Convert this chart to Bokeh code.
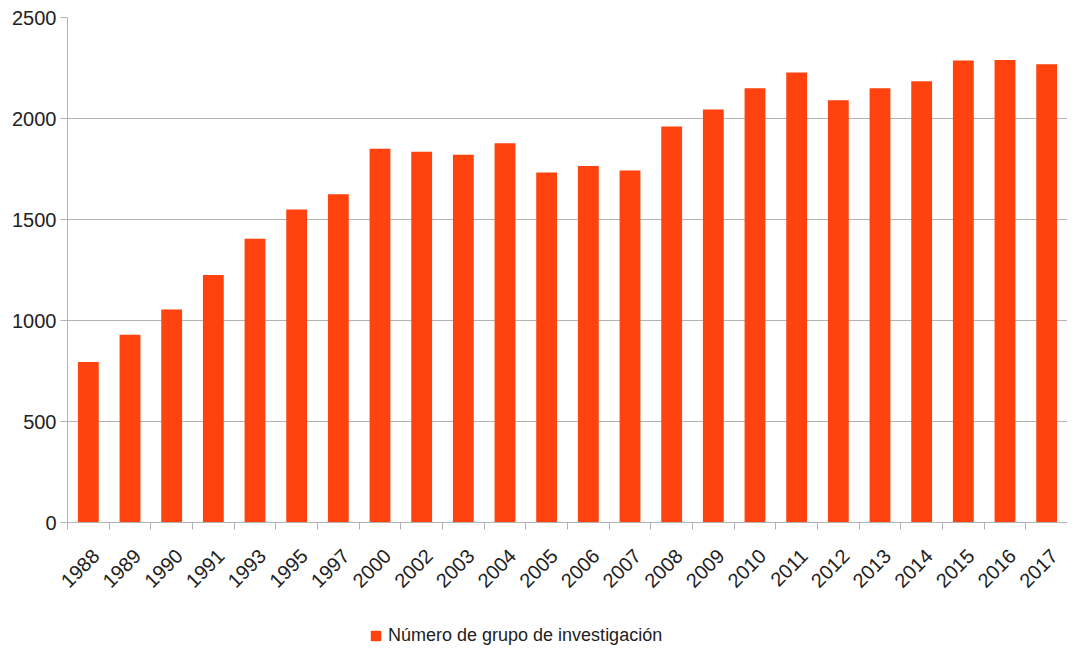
import numpy as np
from bokeh.plotting import figure
from bokeh.layouts import column
from bokeh.models import (ColumnDataSource, FixedTicker, Legend, LegendItem, Range1d)
from bokeh.embed import file_html
from bokeh.resources import INLINE

years = ["1988", "1989", "1990", "1991", "1993", "1995", "1997", "2000", "2002", "2003",
         "2004", "2005", "2006", "2007", "2008", "2009", "2010", "2011", "2012", "2013",
         "2014", "2015", "2016", "2017"]
grupos = [795, 930, 1055, 1225, 1405, 1550, 1625, 1850, 1835, 1820,
          1878, 1733, 1765, 1742, 1960, 2045, 2150, 2228, 2090, 2150,
          2185, 2287, 2290, 2268]
series_name = "Número de grupo de investigación"
y_ticks = [0, 500, 1000, 1500, 2000, 2500]

n = len(years)
xpos = np.arange(n) + 0.5
src = ColumnDataSource(dict(x=xpos, top=grupos, year=years))

FONT = "Liberation Sans"
GRAY = "#b3b3b3"
TXT = "#222222"
BAR = "#ff420e"

p = figure(width=1067, height=606, output_backend="svg", toolbar_location=None,
           x_range=Range1d(0, n), y_range=Range1d(0, 2500),
           min_border_left=67, min_border_top=17, min_border_right=0,
           min_border_bottom=84)
p.outline_line_color = None
p.background_fill_color = "white"
p.border_fill_color = "white"

r = p.vbar(x="x", top="top", width=0.5, bottom=0, source=src,
           fill_color=BAR, line_color=None)

p.xgrid.visible = False
p.ygrid.grid_line_color = GRAY
p.ygrid.grid_line_width = 1
p.ygrid.ticker = FixedTicker(ticks=y_ticks)

p.yaxis.ticker = FixedTicker(ticks=y_ticks)
p.yaxis.axis_line_color = GRAY
p.yaxis.major_tick_line_color = GRAY
p.yaxis.major_tick_out = 7
p.yaxis.major_tick_in = 0
p.yaxis.minor_tick_line_color = None
p.yaxis.major_label_text_font = FONT
p.yaxis.major_label_text_font_size = "20px"
p.yaxis.major_label_text_color = TXT
p.yaxis.major_label_standoff = 4

label_pos = [float(x) + 0.18 for x in xpos]
p.xaxis.ticker = FixedTicker(ticks=label_pos, minor_ticks=list(range(n + 1)))
p.xaxis.major_label_overrides = {x: y for x, y in zip(label_pos, years)}
p.xaxis.axis_line_color = GRAY
p.xaxis.major_tick_out = 0
p.xaxis.major_tick_in = 0
p.xaxis.major_tick_line_color = None
p.xaxis.minor_tick_line_color = GRAY
p.xaxis.minor_tick_out = 7
p.xaxis.minor_tick_in = 0
p.xaxis.major_label_orientation = np.pi / 4
p.xaxis.major_label_text_font = FONT
p.xaxis.major_label_text_font_size = "20px"
p.xaxis.major_label_text_color = TXT
p.xaxis.major_label_standoff = 23

# legend strip below the chart (proxy renderer of the same series, hidden)
lg = figure(width=1067, height=40, output_backend="svg", toolbar_location=None,
            x_range=Range1d(0, n), y_range=Range1d(0, 2500),
            x_axis_type=None, y_axis_type=None,
            min_border_left=0, min_border_right=0, min_border_top=0, min_border_bottom=0)
lg.outline_line_color = None
lg.xgrid.visible = False
lg.ygrid.visible = False
proxy = lg.vbar(x="x", top="top", width=0.5, bottom=0, source=src,
                fill_color=BAR, line_color=None, visible=False)

legend = Legend(items=[LegendItem(label=series_name, renderers=[proxy])],
                location=(302, 0), orientation="horizontal",
                border_line_color=None, background_fill_alpha=0,
                padding=0, margin=0, glyph_width=13, glyph_height=13,
                label_standoff=6, label_text_font=FONT,
                label_text_font_size="18px", label_text_color=TXT)
lg.add_layout(legend, "center")

layout = column(p, lg, spacing=0)
open("out.html", "w").write(file_html(layout, INLINE))
